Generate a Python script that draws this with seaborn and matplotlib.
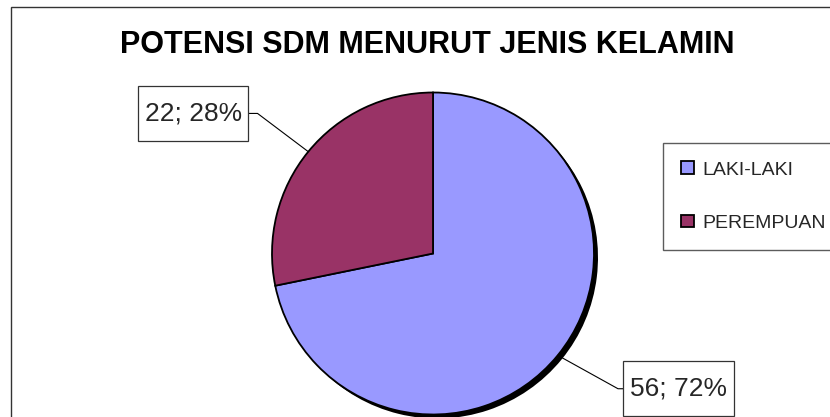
import numpy as np
import matplotlib.pyplot as plt
import seaborn as sns
from matplotlib.patches import Patch, Rectangle
from matplotlib.path import Path

# data
categories = ['LAKI-LAKI', 'PEREMPUAN']
counts = [56, 22]
slice_colors = ['#9999FF', '#993366']
title = 'POTENSI SDM MENURUT JENIS KELAMIN'

sns.set_theme(style='white')
plt.rcParams['font.family'] = ['Liberation Sans', 'DejaVu Sans']

W, H = 830, 417
fig = plt.figure(figsize=(W / 100, H / 100), dpi=100)

# outer chart frame (cut off on the right and bottom, like the source)
fig.patches.append(Rectangle((11 / W, -0.05), 1.1, 1 - 7 / H + 0.05,
                             transform=fig.transFigure, fill=False,
                             edgecolor='#333333', linewidth=1.0))

fig.text(427.5 / W, 1 - 45 / H, title, ha='center', va='center',
         fontsize=22, fontweight='bold', color='black')


def label_box(x0, y0, width, height, mutation_size):
    # square box, wider padding top/bottom than left/right
    px, py = 0.25 * mutation_size, 0.59 * mutation_size
    x0, y0 = x0 - px, y0 - py
    x1, y1 = x0 + width + 2 * px, y0 + height + 2 * py
    return Path([(x0, y0), (x1, y0), (x1, y1), (x0, y1), (x0, y0)], closed=True)


# pie axes: centre ~ (433, 253.5) px, radius ~161 px
cx, cy, r = 433, 253.5, 161
ax = fig.add_axes([(cx - r) / W, (H - cy - r) / H, 2 * r / W, 2 * r / H])

palette = sns.color_palette(slice_colors)
shadow_off = 4 / r
ax.pie(counts, colors=['black'] * len(counts), startangle=90, counterclock=False,
       center=(shadow_off, -shadow_off), wedgeprops=dict(linewidth=0))
wedges, _ = ax.pie(counts, colors=palette, startangle=90, counterclock=False,
                   wedgeprops=dict(edgecolor='black', linewidth=1.3))
ax.set_xlim(-1, 1)
ax.set_ylim(-1, 1)
ax.set_aspect('equal')
ax.axis('off')

total = sum(counts)
# label box centres (axes data units) and leader angles
label_pos = [(1.525, -0.84), (-1.49, 0.87)]
leader_angle = [-29, -37]
for w, n, pos, ang in zip(wedges, counts, label_pos, leader_angle):
    mid = np.deg2rad((w.theta1 + w.theta2) / 2)
    xy = (np.cos(mid), np.sin(mid))
    txt = f'{n}; {round(100 * n / total)}%'
    ax.annotate(txt, xy=xy, xytext=pos, ha='center', va='center', fontsize=19,
                annotation_clip=False,
                bbox=dict(boxstyle=label_box, fc='white', ec='#333333', lw=0.9),
                arrowprops=dict(arrowstyle='-', color='black', lw=0.8,
                                shrinkA=0, shrinkB=0,
                                connectionstyle=f'angle,angleA=0,angleB={ang},rad=0'))

handles = [Patch(facecolor=c, edgecolor='black', linewidth=1.3) for c in palette]
leg = fig.legend(handles, categories, loc='upper left',
                 bbox_to_anchor=(663 / W, 1 - 143 / H), bbox_transform=fig.transFigure,
                 fontsize=14, frameon=True, fancybox=False, shadow=False,
                 borderpad=0.95, labelspacing=1.86, handlelength=0.62, handleheight=0.62,
                 handletextpad=0.45, borderaxespad=0)
leg.get_frame().set_edgecolor('#333333')
leg.get_frame().set_linewidth(1.0)

fig.savefig('out.png', dpi=100)
